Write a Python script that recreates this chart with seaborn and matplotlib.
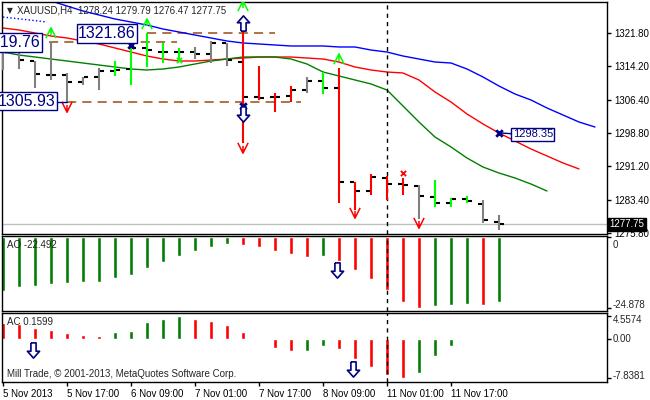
import matplotlib
matplotlib.use("Agg")
import matplotlib.pyplot as plt
import matplotlib.transforms as mtransforms
from matplotlib.path import Path
import numpy as np
import pandas as pd
import seaborn as sns

# ---- values ----
bar_open = [1317.42, 1318.12, 1315.35, 1312.13, 1312.13, 1310.51, 1311.67, 1313.05,
            1313.51, 1318.35, 1317.42, 1317.42, 1317.42, 1316.96, 1319.50, 1315.12,
            1307.06, 1307.06, 1307.29, 1308.67, 1310.75, 1309.13, 1287.48, 1285.41,
            1288.41, 1287.02, 1286.56, 1284.03, 1282.65, 1283.57, 1282.42, 1278.24]
bar_high = [1318.81, 1318.12, 1315.35, 1319.73, 1312.59, 1311.67, 1313.74, 1315.35,
            1319.50, 1321.86, 1319.50, 1318.35, 1318.58, 1319.96, 1319.50, 1325.48,
            1314.20, 1307.98, 1309.59, 1311.67, 1312.82, 1313.74, 1287.48, 1289.33,
            1288.87, 1288.41, 1286.79, 1287.94, 1283.80, 1284.26, 1283.34, 1279.79]
bar_low = [1313.28, 1313.51, 1309.13, 1310.98, 1305.93, 1309.82, 1308.67, 1311.90,
           1309.82, 1313.97, 1314.89, 1315.12, 1315.81, 1314.89, 1314.20, 1296.47,
           1306.37, 1303.61, 1305.91, 1307.98, 1307.75, 1282.65, 1281.04, 1284.49,
           1283.34, 1284.49, 1278.96, 1281.73, 1281.73, 1282.65, 1278.04, 1276.47]
bar_close = [1318.12, 1315.58, 1312.36, 1312.13, 1310.51, 1311.67, 1313.05, 1313.28,
             1318.35, 1317.88, 1317.42, 1317.42, 1316.96, 1319.50, 1315.58, 1307.06,
             1306.83, 1307.06, 1308.67, 1310.75, 1309.13, 1287.48, 1285.41, 1288.64,
             1287.02, 1286.79, 1284.26, 1282.65, 1283.57, 1283.11, 1278.73, 1277.75]

# alligator lines (shifted forward past the last bar)
jaw_start = 3
jaw = [1329.17, 1328.02, 1326.87, 1325.95, 1325.03, 1324.33, 1323.64, 1322.72,
       1322.03, 1321.33, 1320.65, 1319.96, 1319.50, 1319.27, 1319.04, 1318.81,
       1318.81, 1318.81, 1318.58, 1318.58, 1317.88, 1317.42, 1316.50, 1315.81,
       1315.12, 1314.89, 1313.51, 1311.67, 1309.59, 1307.75, 1306.37, 1304.53,
       1302.92, 1301.30, 1300.15]
teeth_start = 0
teeth = [1322.95, 1322.49, 1321.80, 1321.11, 1320.65, 1319.96, 1319.27, 1318.35,
         1317.42, 1316.50, 1315.81, 1315.35, 1315.35, 1315.58, 1315.81, 1316.04,
         1316.27, 1316.27, 1316.27, 1316.04, 1315.81, 1315.12, 1313.97, 1313.28,
         1312.82, 1312.59, 1310.98, 1308.21, 1305.91, 1303.15, 1300.85, 1298.77,
         1296.93, 1295.09, 1293.48, 1291.87, 1290.49]
lips_start = 0
lips = [1317.42, 1316.73, 1316.27, 1315.81, 1315.35, 1314.89, 1314.43, 1313.97,
        1313.51, 1313.28, 1313.51, 1313.97, 1314.66, 1315.35, 1315.81, 1316.27,
        1316.27, 1316.27, 1315.81, 1314.66, 1312.82, 1311.90, 1310.98, 1310.06,
        1308.67, 1304.99, 1301.30, 1297.85, 1295.55, 1293.01, 1290.94, 1289.56,
        1288.41, 1287.02, 1285.41]
dotted_bars = [0, 2.75]
dotted_vals = [1325.48, 1324.33]

ao_value = [-18.79, -17.40, -17.05, -16.36, -16.01, -15.80, -15.62, -14.27,
            -13.22, -10.79, -8.70, -6.61, -4.87, -3.48, -2.44, -2.78,
            -3.48, -4.87, -5.92, -6.96, -6.61, -8.35, -11.48, -14.62,
            -18.44, -22.62, -24.878, -24.01, -23.66, -23.32, -23.66, -22.492]
ao_trend = ['up'] * 15 + ['dn'] * 5 + ['up'] + ['dn'] * 6 + ['up'] * 3 + ['dn', 'up']

ac_value = [3.2, 3.0, 2.2, 1.8, 1.2, 0.8, 0.6, 1.4,
            1.6, 3.4, 4.0, 4.5574, 4.0, 3.6, 2.8, 1.4,
            -0.15, -1.8, -2.4, -2.3, -1.4, -2.0, -4.0, -5.6,
            -7.2, -7.8381, -6.8, -3.4, -1.4, 0.12, 0.2, 0.1599]
ac_trend = ['dn'] * 7 + ['up'] * 5 + ['dn'] * 7 + ['up'] * 2 + ['dn'] * 5 + ['up'] * 5 + ['dn']

# levels, fractals and signal marks
level_price = [1321.86, 1319.76, 1305.93]
level_from = [9, 2.9, 4]
level_to = [17, 10.9, 18.6]
frac_up_bar = [3, 9, 15, 21]
frac_up_val = [1321.80, 1323.87, 1328.02, 1315.81]
frac_dn_bar = [4, 15, 22, 26]
frac_dn_val = [1304.76, 1295.32, 1280.35, 1278.04]
navy_x_bar = [0, 8, 15, 31]
navy_x_val = [1318.12, 1319.04, 1305.00, 1298.80]
price_ticks = [1321.80, 1314.20, 1306.40, 1298.80, 1291.20, 1283.40, 1275.80]
time_ticks = [0, 4, 8, 12, 16, 20, 24, 28]
time_labels = ['5 Nov 2013', '5 Nov 17:00', '6 Nov 09:00', '7 Nov 01:00',
               '7 Nov 17:00', '8 Nov 09:00', '11 Nov 01:00', '11 Nov 17:00']
last_price = 1277.75
ao_ticks = [0, -24.878]
ao_tick_labels = ['0', '-24.878']
ac_ticks = [4.5574, 0, -7.8381]
ac_tick_labels = ['4.5574', '0.00', '-7.8381']

bars = np.arange(len(bar_open))
bar_col = []
for a, c in zip(ao_trend, ac_trend):
    if a == 'up' and c == 'up':
        bar_col.append('#00ff00')
    elif a == 'dn' and c == 'dn':
        bar_col.append('#ff0000')
    else:
        bar_col.append('#808080')

sns.set_theme(style="white")
plt.rcParams['font.family'] = ['Liberation Sans', 'DejaVu Sans']

W, H = 650, 400
fig = plt.figure(figsize=(6.5, 4.0), dpi=100)


def px_box(l, t, r, b):
    return [l / W, 1 - b / H, (r - l) / W, (b - t) / H]


ax = fig.add_axes(px_box(2, 2, 607, 234))
ax_ao = fig.add_axes(px_box(2, 236, 607, 311))
ax_ac = fig.add_axes(px_box(2, 313, 607, 382))

# hollow arrow and fractal marker shapes
arrow_dn = Path([(-0.17, 0.5), (0.17, 0.5), (0.17, -0.05), (0.4, -0.05), (0, -0.5),
                 (-0.4, -0.05), (-0.17, -0.05), (-0.17, 0.5)])
arrow_up = Path([(x, -y) for x, y in arrow_dn.vertices])
frac_up = Path([(-0.5, -0.5), (0, 0.5), (0.5, -0.5), (0, 0.5), (0, -0.2)],
               [Path.MOVETO, Path.LINETO, Path.LINETO, Path.MOVETO, Path.LINETO])
frac_dn = Path([(-0.5, 0.5), (0, -0.5), (0.5, 0.5), (0, -0.5), (0, 0.2)],
               [Path.MOVETO, Path.LINETO, Path.LINETO, Path.MOVETO, Path.LINETO])

# ---- main price panel ----
ax.axhline(last_price, color='#c0c0c0', lw=1, zorder=1)
ax.hlines(level_price, level_from, level_to, colors='#9c4a10', lw=1.1,
          linestyles=(0, (6, 4)), zorder=2)
sns.lineplot(x=dotted_bars, y=dotted_vals, ax=ax, color='blue', lw=1, linestyle=':')
sns.lineplot(x=np.arange(jaw_start, jaw_start + len(jaw)), y=jaw, ax=ax, color='#0000ff', lw=1)
sns.lineplot(x=np.arange(teeth_start, teeth_start + len(teeth)), y=teeth, ax=ax, color='#ff0000', lw=1)
sns.lineplot(x=np.arange(lips_start, lips_start + len(lips)), y=lips, ax=ax, color='#008000', lw=1)

ax.vlines(bars, bar_low, bar_high, colors=bar_col, lw=1.5, zorder=4)
ax.hlines(bar_open, bars - 0.32, bars - 0.06, colors='black', lw=1.5, zorder=4)
ax.hlines(bar_close, bars + 0.06, bars + 0.32, colors='black', lw=1.5, zorder=4)

ax.scatter(frac_up_bar, frac_up_val, marker=frac_up, s=55, facecolors='none',
           edgecolors='#00ff00', linewidths=1.1, zorder=6)
ax.scatter(frac_dn_bar, frac_dn_val, marker=frac_dn, s=55, facecolors='none',
           edgecolors='#ff0000', linewidths=1.1, zorder=6)
ax.scatter(navy_x_bar, navy_x_val, marker='x', s=22, color='#000080', linewidths=2, zorder=7)
ax.scatter([25], [1289.56], marker='x', s=14, color='#ff0000', linewidths=1.3, zorder=7)
ax.scatter([11], [1315.58], marker='x', s=14, color='#00ff00', linewidths=1.3, zorder=7)
ax.scatter([15], [1324.10], marker=arrow_up, s=120, facecolors='white',
           edgecolors='#000080', linewidths=1.2, zorder=8)
ax.scatter([15], [1303.15], marker=arrow_dn, s=120, facecolors='white',
           edgecolors='#000080', linewidths=1.2, zorder=8)

box = dict(boxstyle='square,pad=0.1', fc='white', ec='#000080', lw=1)
ax.text(6.5, 1321.70, '1321.86', fontsize=11.5, color='#000080', ha='center', va='center',
        bbox=box, zorder=9)
ax.text(2.35, 1319.61, '1319.76', fontsize=11.5, color='#000080', ha='right', va='center',
        bbox=box, zorder=9)
ax.text(3.3, 1306.14, '1305.93', fontsize=11.5, color='#000080', ha='right', va='center',
        bbox=box, zorder=9)
ax.plot([3.4, 4], [1305.93, 1305.93], color='#000080', lw=1, zorder=9)
ax.plot([31, 31.8], [1298.8, 1298.6], color='#000080', lw=1, zorder=9)
ax.text(31.85, 1298.45, '1298.35', fontsize=8, color='#000080', ha='left', va='center',
        bbox=box, zorder=9)

ax.text(0.009, 0.965, '\u25BC', transform=ax.transAxes, fontsize=5.5, va='center',
        family=['DejaVu Sans'])
ax.text(0.025, 0.965, 'XAUUSD,H4  1278.24 1279.79 1276.47 1277.75', transform=ax.transAxes,
        fontsize=7, va='center')

ax.set_ylim(1275.51, 1328.94)
ax.yaxis.tick_right()
ax.set_yticks(price_ticks)
ax.set_yticklabels([f'{p:.2f}' for p in price_ticks])
ax.set_xticks([])
ax.text(1.004, last_price, f'{last_price:.2f}', color='white', fontsize=7, va='center',
        ha='left', transform=mtransforms.blended_transform_factory(ax.transAxes, ax.transData),
        bbox=dict(boxstyle='square,pad=0.15', fc='black', ec='black'), zorder=10, clip_on=False)

# ---- AO panel ----
ao_df = pd.DataFrame({'bar': bars, 'value': ao_value, 'trend': ao_trend})
sns.barplot(data=ao_df, x='bar', y='value', hue='trend', palette={'up': '#008000', 'dn': '#ff0000'},
            dodge=False, native_scale=True, width=0.19, errorbar=None, legend=False,
            saturation=1, ax=ax_ao)
ax_ao.set_ylim(-25.8, 0.35)
ax_ao.yaxis.tick_right()
ax_ao.set_yticks(ao_ticks)
ax_ao.set_yticklabels([])
# labels sit inside the panel the way the terminal prints them
for frac, lab in zip([0.88, 0.08], ao_tick_labels):
    ax_ao.text(1.009, frac, lab, transform=ax_ao.transAxes, fontsize=7, va='center', ha='left')
ax_ao.text(0.009, 0.88, 'AO -22.492', transform=ax_ao.transAxes, fontsize=7, va='center')
ax_ao.scatter([20.9], [-11.5], marker=arrow_dn, s=120, facecolors='white',
              edgecolors='#000080', linewidths=1.2, zorder=8)

# ---- AC panel ----
ac_df = pd.DataFrame({'bar': bars, 'value': ac_value, 'trend': ac_trend})
sns.barplot(data=ac_df, x='bar', y='value', hue='trend', palette={'up': '#008000', 'dn': '#ff0000'},
            dodge=False, native_scale=True, width=0.19, errorbar=None, legend=False,
            saturation=1, ax=ax_ac)
ax_ac.set_ylim(-8.6, 5.2)
ax_ac.yaxis.tick_right()
ax_ac.set_yticks(ac_ticks)
ax_ac.set_yticklabels([])
for frac, lab in zip([0.899, 0.623, 0.087], ac_tick_labels):
    ax_ac.text(1.009, frac, lab, transform=ax_ac.transAxes, fontsize=7, va='center', ha='left')
ax_ac.text(0.009, 0.87, 'AC 0.1599', transform=ax_ac.transAxes, fontsize=7, va='center')
ax_ac.text(0.009, 0.116, 'Mill Trade, \u00A9 2001-2013, MetaQuotes Software Corp.',
           transform=ax_ac.transAxes, fontsize=7, va='center')
ax_ac.scatter([1.9, 21.9], [-2.2, -6.0], marker=arrow_dn, s=120, facecolors='white',
              edgecolors='#000080', linewidths=1.2, zorder=8)
ax_ac.set_xticks(time_ticks)
ax_ac.set_xticklabels(time_labels, ha='left')

for a in (ax, ax_ao, ax_ac):
    a.set_xlim(-0.0625, 37.75)
    a.axvline(24, color='black', lw=1, linestyle=(0, (3, 3)), zorder=3)
    a.set_xlabel('')
    a.set_ylabel('')
    a.grid(False)
    a.set_facecolor('white')
    for s in a.spines.values():
        s.set_color('black')
        s.set_linewidth(1)
    a.tick_params(axis='y', which='both', right=True, left=False, direction='out',
                  length=3, width=1, pad=2, labelsize=7, colors='black')
ax.tick_params(axis='x', bottom=False, labelbottom=False)
ax_ao.tick_params(axis='x', bottom=False, labelbottom=False)
ax_ac.tick_params(axis='x', bottom=True, direction='out', length=3, width=1, pad=2,
                  labelsize=7, colors='black')

fig.savefig('out.png', dpi=100, facecolor='white')
